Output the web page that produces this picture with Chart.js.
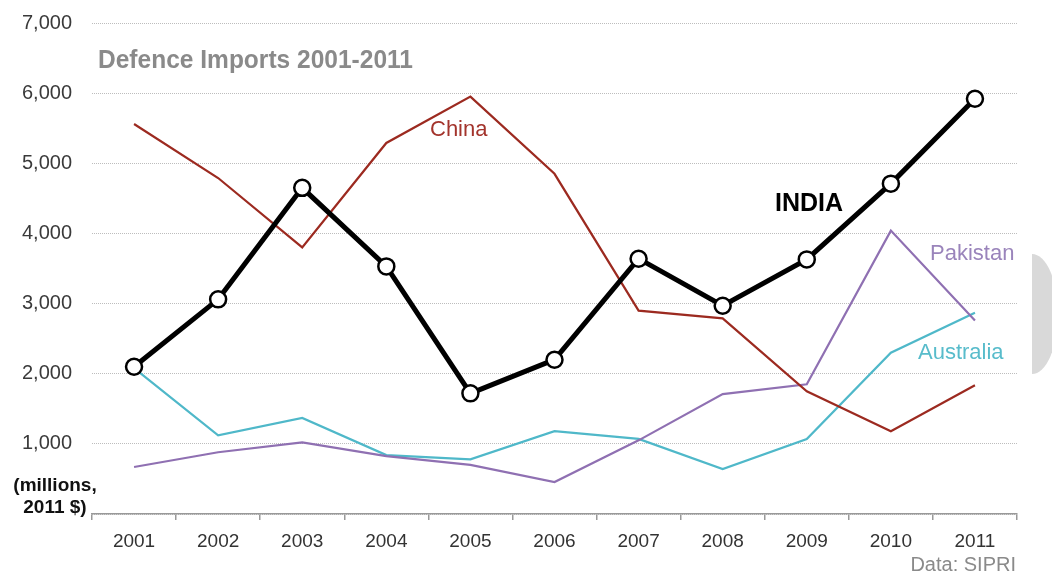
<!DOCTYPE html>
<html lang="en">
<head>
  <meta charset="UTF-8" />
  <title>Defence Imports 2001-2011</title>
  <script src="https://cdn.jsdelivr.net/npm/chart.js"></script>
  <style>
    html, body { margin: 0; padding: 0; background: #fff; }
    #wrap { width: 1052px; height: 575px; position: relative; }
  </style>
</head>
<body>
  <div id="wrap"><canvas id="importsChart"></canvas></div>

  <script>
    // values in millions of 2011 US$
    const years = ['2001', '2002', '2003', '2004', '2005', '2006', '2007', '2008', '2009', '2010', '2011'];
    const india     = [2100, 3060, 4650, 3530, 1720, 2200, 3640, 2970, 3630, 4710, 5920];
    const china     = [5560, 4790, 3800, 5290, 5950, 4850, 2900, 2790, 1750, 1180, 1835];
    const pakistan  = [670, 880, 1020, 825, 700, 455, 1050, 1710, 1850, 4040, 2760];
    const australia = [2080, 1120, 1370, 840, 780, 1180, 1070, 640, 1070, 2300, 2870];
    const yTicks = [0, 1000, 2000, 3000, 4000, 5000, 6000, 7000];

    const FONT = '"Liberation Sans", Arial, Helvetica, sans-serif';

    // text and decorations drawn straight on the canvas
    const annotations = {
      id: 'annotations',
      afterDraw(chart) {
        const ctx = chart.ctx;
        ctx.save();

        // title, squeezed to look like a condensed face
        ctx.font = 'bold 26px ' + FONT;
        ctx.fillStyle = '#8a8a8a';
        ctx.textBaseline = 'middle';
        ctx.textAlign = 'left';
        const title = 'Defence Imports 2001-2011';
        const w = ctx.measureText(title).width;
        ctx.save();
        ctx.translate(98, 61);
        ctx.scale(315 / w, 1);
        ctx.fillText(title, 0, 0);
        ctx.restore();

        // unit label sitting where the 0 tick would be
        ctx.font = 'bold 19px ' + FONT;
        ctx.fillStyle = '#111';
        ctx.textAlign = 'center';
        ctx.fillText('(millions,', 55, 486);
        ctx.fillText('2011 $)', 55, 508);

        // series labels
        ctx.textAlign = 'left';
        ctx.font = '22px ' + FONT;
        ctx.fillStyle = '#a3342c';
        ctx.fillText('China', 430, 130);
        ctx.fillStyle = '#9a84bb';
        ctx.fillText('Pakistan', 930, 254);
        ctx.fillStyle = '#58bccb';
        ctx.fillText('Australia', 918, 353);
        ctx.font = 'bold 25px ' + FONT;
        ctx.fillStyle = '#000';
        ctx.fillText('INDIA', 775, 204);

        ctx.font = '20px ' + FONT;
        ctx.fillStyle = '#8a8a8a';
        ctx.textAlign = 'right';
        ctx.fillText('Data: SIPRI', 1016, 565);

        // grey half disc at the right edge
        ctx.fillStyle = '#d9d9d9';
        ctx.beginPath();
        ctx.ellipse(1032, 314, 26, 60, 0, -Math.PI / 2, Math.PI / 2);
        ctx.closePath();
        ctx.fill();

        ctx.restore();
      }
    };

    const thin = (data, color, order) => ({
      data: data,
      borderColor: color,
      borderWidth: 2.2,
      pointRadius: 0,
      tension: 0,
      order: order
    });

    const chart = new Chart(document.getElementById('importsChart'), {
      type: 'line',
      data: {
        labels: years,
        datasets: [
          {
            label: 'India',
            data: india,
            borderColor: '#000',
            borderWidth: 5,
            pointRadius: 8,
            pointBorderWidth: 2.5,
            pointBackgroundColor: '#fff',
            pointBorderColor: '#000',
            tension: 0,
            order: 0,
            clip: false
          },
          Object.assign(thin(china, '#9c2a20', 1), { label: 'China' }),
          Object.assign(thin(pakistan, '#8f70b2', 2), { label: 'Pakistan' }),
          Object.assign(thin(australia, '#4fb8c9', 3), { label: 'Australia' })
        ]
      },
      options: {
        responsive: true,
        maintainAspectRatio: false,
        animation: false,
        layout: { padding: { top: 23, right: 35, bottom: 0, left: 0 } },
        plugins: {
          legend: { display: false },
          tooltip: { enabled: false }
        },
        scales: {
          x: {
            offset: true,
            grid: {
              display: true,
              offset: true,
              drawOnChartArea: false,
              drawTicks: true,
              tickLength: 6,
              color: '#999',
              lineWidth: 1.5
            },
            border: { display: true, color: '#999', width: 1.5 },
            ticks: {
              color: '#333',
              padding: 10,
              font: { family: FONT, size: 19 }
            },
            afterFit(scale) { scale.height = 61; }
          },
          y: {
            min: 0,
            max: 7000,
            afterBuildTicks(scale) { scale.ticks = yTicks.map(v => ({ value: v })); },
            grid: {
              color: '#bdbdbd',
              lineWidth: 1,
              drawTicks: false
            },
            border: { display: false, dash: [1, 1] },
            ticks: {
              color: '#3a3a3a',
              padding: 20,
              font: { family: FONT, size: 20 },
              callback: v => v === 0 ? '' : v.toLocaleString('en-US')
            },
            afterFit(scale) {
              scale.width = 92;
              scale.paddingTop = 0;
              scale.paddingBottom = 0;
            }
          }
        }
      },
      plugins: [annotations]
    });
  </script>
</body>
</html>
